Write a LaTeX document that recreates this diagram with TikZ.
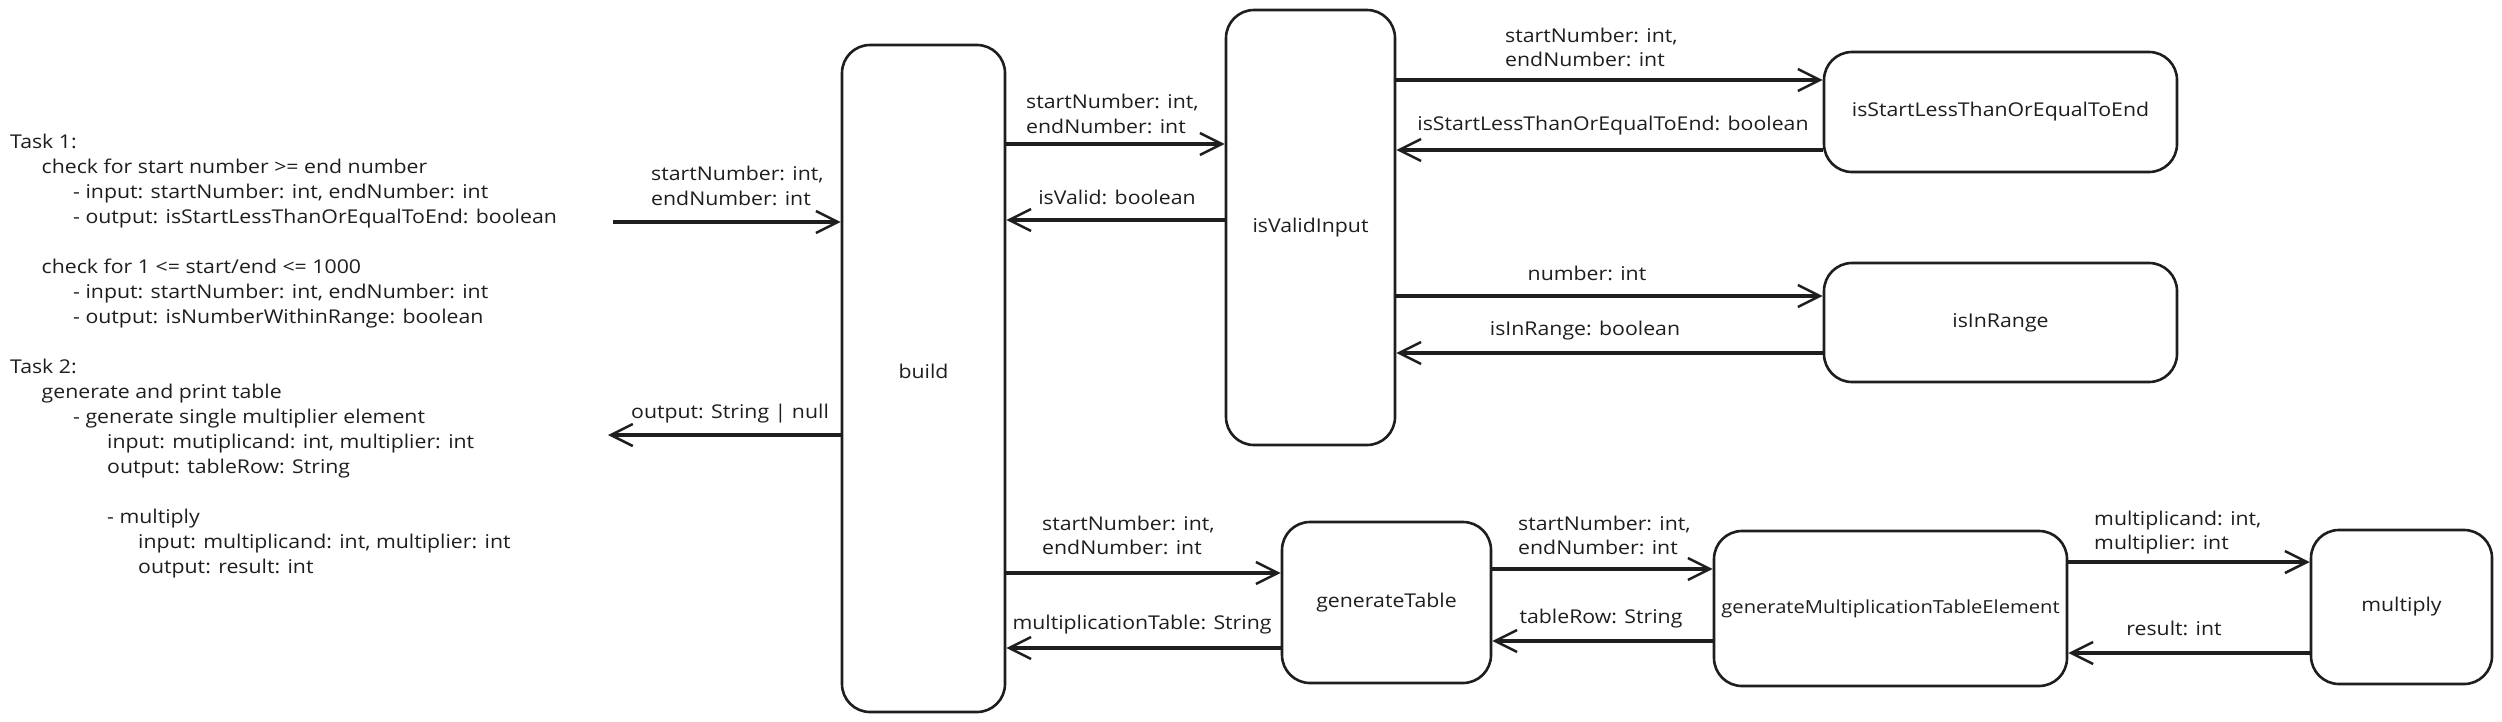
\documentclass[tikz,border=0pt]{standalone}
\usepackage{fontspec}
\setmainfont{Open Sans}[FakeStretch=1.12]
\usetikzlibrary{arrows.meta}
\definecolor{ink}{HTML}{1E1E1E}
\newcommand\lblfont{\fontsize{19pt}{24.5pt}\selectfont}
\begin{document}
\begin{tikzpicture}[x=1pt,y=-1pt,
  box/.style={draw=ink, line width=2.6pt, rounded corners=28pt, inner sep=0pt, font=\lblfont, text=ink},
  arr/.style={draw=ink, line width=4pt, -{Straight Barb[length=22pt,width=22pt,line width=2.5pt]}},
  lbl/.style={font=\lblfont, text=ink, inner sep=0pt, text height=14pt, text depth=4pt},
  mlbl/.style={font=\lblfont, text=ink, inner sep=0pt, align=left}]
\fill[white] (0,0) rectangle (2502,721);
\useasboundingbox (0,0) rectangle (2502,721);

% boxes
\node[box, minimum width=163pt, minimum height=667pt] (build) at (923.5,378.5) {\raisebox{15pt}{build}};
\node[box, minimum width=169pt, minimum height=435pt] (ivi) at (1310.5,227.5) {isValidInput};
\node[box, minimum width=353pt, minimum height=120pt] (isle) at (2000.5,112) {isStartLessThanOrEqualToEnd};
\node[box, minimum width=353pt, minimum height=119pt] (iir) at (2000.5,322.5) {isInRange};
\node[box, minimum width=209pt, minimum height=161pt] (gt) at (1386.5,602.5) {generateTable};
\node[box, minimum width=353pt, minimum height=155pt] (gmte) at (1890.5,608.5) {\fontsize{18pt}{22pt}\selectfont generateMultiplicationTableElement};
\node[box, minimum width=181pt, minimum height=154pt] (mul) at (2401.5,607) {multiply};

\coordinate (in) at (613,222);
\coordinate (out) at (608,435);

% connectors
\draw[arr] (in) -- (build.west |- in);
\draw[arr] (build.west |- out) -- (out);
\draw[arr] (build.east |- 0,144) -- (ivi.west |- 0,144);
\draw[arr] (ivi.west |- 0,220) -- (build.east |- 0,220);
\draw[arr] (ivi.east |- 0,80) -- (isle.west |- 0,80);
\draw[arr] (isle.west |- 0,150) -- (ivi.east |- 0,150);
\draw[arr] (ivi.east |- 0,296) -- (iir.west |- 0,296);
\draw[arr] (iir.west |- 0,353) -- (ivi.east |- 0,353);
\draw[arr] (build.east |- 0,573) -- (gt.west |- 0,573);
\draw[arr] (gt.west |- 0,648) -- (build.east |- 0,648);
\draw[arr] (gt.east |- 0,569) -- (gmte.west |- 0,569);
\draw[arr] (gmte.west |- 0,641) -- (gt.east |- 0,641);
\draw[arr] (gmte.east |- 0,562) -- (mul.west |- 0,562);
\draw[arr] (mul.west |- 0,653) -- (gmte.east |- 0,653);

% connector labels
\node[mlbl, anchor=west] (l1) at (651,186) {startNumber: int,\\endNumber: int};
\node[lbl] (l2) at (730,413) {output: String | null};
\node[mlbl, anchor=west] (l3) at (1026,114) {startNumber: int,\\endNumber: int};
\node[lbl] (l4) at (1117,199) {isValid: boolean};
\node[mlbl, anchor=west] (l5) at (1505,47.5) {startNumber: int,\\endNumber: int};
\node[lbl] (l6) at (1613,125) {isStartLessThanOrEqualToEnd: boolean};
\node[lbl] (l7) at (1587,275) {number: int};
\node[lbl] (l8) at (1585,330) {isInRange: boolean};
\node[mlbl, anchor=west] (l9) at (1042,535.5) {startNumber: int,\\endNumber: int};
\node[lbl] (l10) at (1142,624) {multiplicationTable: String};
\node[mlbl, anchor=west] (l11) at (1518,535.5) {startNumber: int,\\endNumber: int};
\node[lbl] (l12) at (1601,618) {tableRow: String};
\node[mlbl, anchor=west] (l13) at (2094,532.5) {multiplicand: int,\\multiplier: int};
\node[lbl] (l14) at (2174,630) {result: int};

% task notes
\node[lbl, anchor=west] (t1) at (10,143) {Task 1:};
\node[lbl, anchor=west] (t2) at (41.5,168) {check for start number >= end number};
\node[lbl, anchor=west] (t3) at (73,193) {- input: startNumber: int, endNumber: int};
\node[lbl, anchor=west] (t4) at (73,218) {- output: isStartLessThanOrEqualToEnd: boolean};
\node[lbl, anchor=west] (t5) at (41.5,268) {check for 1 <= start/end <= 1000};
\node[lbl, anchor=west] (t6) at (73,293) {- input: startNumber: int, endNumber: int};
\node[lbl, anchor=west] (t7) at (73,318) {- output: isNumberWithinRange: boolean};
\node[lbl, anchor=west] (t8) at (10,368) {Task 2:};
\node[lbl, anchor=west] (t9) at (41.5,393) {generate and print table};
\node[lbl, anchor=west] (t10) at (73,418) {- generate single multiplier element};
\node[lbl, anchor=west] (t11) at (107,443) {input: mutiplicand: int, multiplier: int};
\node[lbl, anchor=west] (t12) at (107,468) {output: tableRow: String};
\node[lbl, anchor=west] (t13) at (107,518) {- multiply};
\node[lbl, anchor=west] (t14) at (138,543) {input: multiplicand: int, multiplier: int};
\node[lbl, anchor=west] (t15) at (138,568) {output: result: int};
\end{tikzpicture}
\end{document}
